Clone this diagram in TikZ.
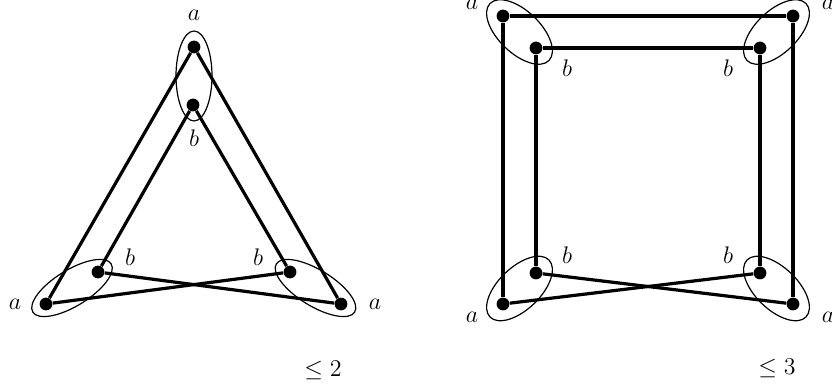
\documentclass[tikz,border=0pt]{standalone}
\usepackage{amsmath,amssymb}
\usepackage{tikz}
\usetikzlibrary{positioning,calc}

\begin{document}
\begin{tikzpicture}[
  x=0.5pt,y=-0.5pt,
  font=\fontsize{13}{15}\selectfont,
  %--- node styles ---
  vtx/.style    ={circle,fill=black,draw=none,inner sep=0pt,minimum size=6.4pt},
  lbl/.style    ={inner sep=0pt,text=black},
  %--- line styles ---
  edge/.style   ={line width=1.6pt,draw=black},
  heavy/.style  ={line width=2.1pt,draw=black},
  hull/.style   ={line width=0.6pt,draw=black},
]
\useasboundingbox (0,0) rectangle (832,390);

%==================== triangle (left) ====================
\node[vtx] (Ta) at (194, 47)  {};
\node[vtx] (Tb) at (193,105)  {};
\node[vtx] (La) at ( 46,304)  {};
\node[vtx] (Lb) at ( 98,272)  {};
\node[vtx] (Rb) at (290,272)  {};
\node[vtx] (Ra) at (341,304)  {};

\draw[edge] (Ta) -- (La);
\draw[edge] (Ta) -- (Ra);
\draw[edge] (Tb) -- (Lb);
\draw[edge] (Tb) -- (Rb);
\draw[edge] (Lb) -- (Ra);
\draw[edge] (La) -- (Rb);

% pair hulls
\draw[hull] (194,76) ellipse (18 and 45);
\draw[hull,shift={($(La)!0.5!(Lb)$)},rotate=31.6] (0,0) ellipse (46 and 18);
\draw[hull,shift={($(Ra)!0.5!(Rb)$)},rotate=-31.6] (0,0) ellipse (46 and 18);

\node[lbl] (Tal) at (194, 15) {$a$};
\node[lbl] (Tbl) at (194,138) {$b$};
\node[lbl] (Lbl) at (130,257) {$b$};
\node[lbl] (Lal) at ( 15,304) {$a$};
\node[lbl] (Rbl) at (258,257) {$b$};
\node[lbl] (Ral) at (375,304) {$a$};
\node[lbl] (bnd2) at (323,370) {$\leq 2$};

%==================== square (right) ====================
\node[vtx] (TLa) at (503, 16) {};
\node[vtx] (TLb) at (536, 48) {};
\node[vtx] (TRb) at (760, 48) {};
\node[vtx] (TRa) at (793, 16) {};
\node[vtx] (BLb) at (536,273) {};
\node[vtx] (BLa) at (503,304) {};
\node[vtx] (BRb) at (760,273) {};
\node[vtx] (BRa) at (793,304) {};

\draw[edge]  (TLa) -- (TRa);
\draw[edge]  (TLb) -- (TRb);
\draw[heavy] (TLa) -- (BLa);
\draw[heavy] (TLb) -- (BLb);
\draw[heavy] (TRb) -- (BRb);
\draw[heavy] (TRa) -- (BRa);
\draw[edge]  (BLb) -- (BRa);
\draw[edge]  (BLa) -- (BRb);

% pair hulls
\draw[hull,shift={($(TLa)!0.5!(TLb)$)},rotate=-44] (0,0) ellipse (41 and 21);
\draw[hull,shift={($(TRa)!0.5!(TRb)$)},rotate=44]  (0,0) ellipse (41 and 21);
\draw[hull,shift={($(BLa)!0.5!(BLb)$)},rotate=44]  (0,0) ellipse (41 and 21);
\draw[hull,shift={($(BRa)!0.5!(BRb)$)},rotate=-44] (0,0) ellipse (41 and 21);

\node[lbl] (TLal) at (472,  4) {$a$};
\node[lbl] (TRal) at (828,  4) {$a$};
\node[lbl] (TLbl) at (567, 68) {$b$};
\node[lbl] (TRbl) at (728, 68) {$b$};
\node[lbl] (BLbl) at (567,255) {$b$};
\node[lbl] (BRbl) at (728,255) {$b$};
\node[lbl] (BLal) at (472,317) {$a$};
\node[lbl] (BRal) at (828,317) {$a$};
\node[lbl] (bnd3) at (777,368) {$\leq 3$};

\end{tikzpicture}
\end{document}
